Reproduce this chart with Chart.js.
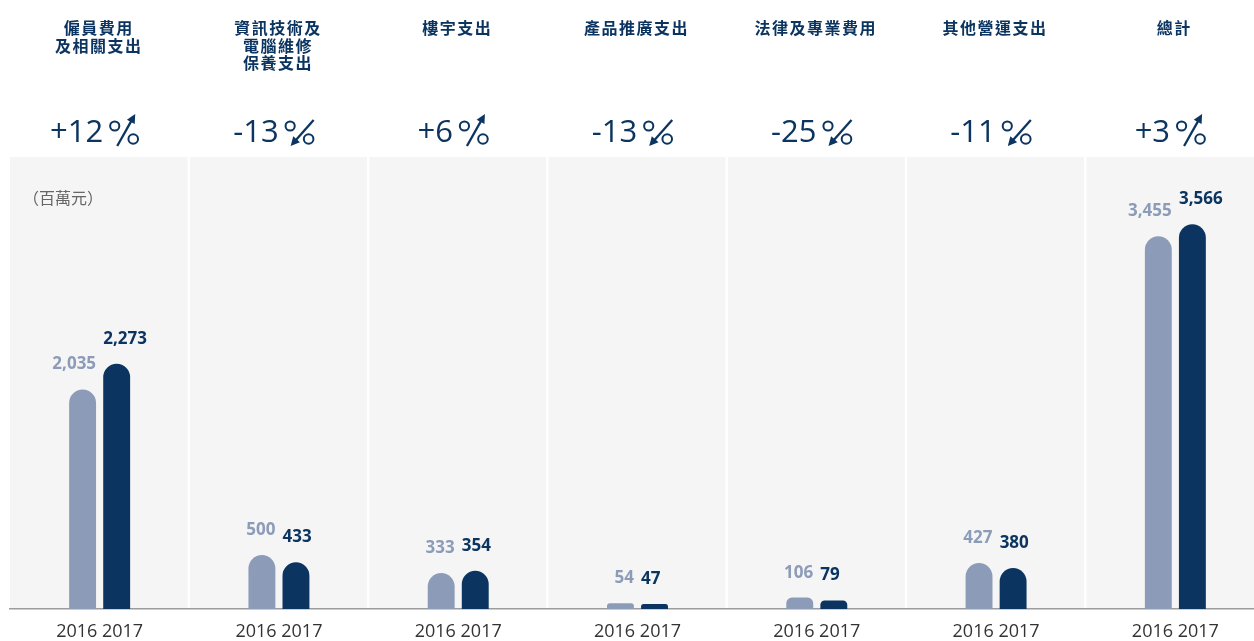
<!DOCTYPE html>
<html lang="zh-Hant">
<head>
<meta charset="UTF-8">
<title>營運支出</title>
<script src="https://cdn.jsdelivr.net/npm/chart.js"></script>
<style>
  body { margin: 0; background: #fff; overflow: hidden; }
</style>
</head>
<body>
<canvas id="costChart" width="1265" height="641"></canvas>
<script>
// data
var categories = [
  ['僱員費用', '及相關支出'],
  ['資訊技術及', '電腦維修', '保養支出'],
  ['樓宇支出'],
  ['產品推廣支出'],
  ['法律及專業費用'],
  ['其他營運支出'],
  ['總計']
];
var years = ['2016', '2017'];
var values2016 = [2035, 500, 333, 54, 106, 427, 3455];
var values2017 = [2273, 433, 354, 47, 79, 380, 3566];
var changes = [12, -13, 6, -13, -25, -11, 3];
var unitLabel = '（百萬元）';

var navy = '#0b3560';
var light = '#8c9cb8';
var cjk = '"Noto Sans CJK TC", "Noto Sans", sans-serif';
var latin = '"Open Sans", "Noto Sans", sans-serif';

function fmt(v) { return v.toLocaleString('en-US'); }

// grey panel behind each category
var panels = {
  id: 'panels',
  beforeDraw: function(chart) {
    var ctx = chart.ctx, a = chart.chartArea;
    var w = (a.right - a.left) / categories.length;
    ctx.save();
    ctx.fillStyle = '#f5f5f5';
    for (var i = 0; i < categories.length; i++) {
      var x0 = a.left + i * w + (i ? 0.7 : 0);
      var x1 = a.left + (i + 1) * w - 1.6;
      ctx.fillRect(x0, a.top, x1 - x0, a.bottom - a.top);
    }
    ctx.restore();
  }
};

// value labels over the bars
var barValues = {
  id: 'barValues',
  afterDatasetsDraw: function(chart) {
    var ctx = chart.ctx;
    ctx.save();
    ctx.font = 'bold 17px ' + latin;
    ctx.textBaseline = 'alphabetic';
    chart.data.datasets.forEach(function(ds, di) {
      chart.getDatasetMeta(di).data.forEach(function(bar, i) {
        var half = bar.width / 2;
        if (di === 0) {
          ctx.fillStyle = light;
          ctx.textAlign = 'right';
          ctx.fillText(fmt(ds.data[i]), bar.x + half, bar.y - 20);
        } else {
          ctx.fillStyle = navy;
          ctx.textAlign = 'left';
          ctx.fillText(fmt(ds.data[i]), bar.x - half, bar.y - 20);
        }
      });
    });
    ctx.restore();
  }
};

function drawArrow(ctx, x0, y0, x1, y1) {
  var ang = Math.atan2(y1 - y0, x1 - x0);
  var len = 9;
  ctx.beginPath();
  ctx.moveTo(x0, y0);
  ctx.lineTo(x1 - Math.cos(ang) * 5, y1 - Math.sin(ang) * 5);
  ctx.stroke();
  ctx.beginPath();
  ctx.moveTo(x1, y1);
  ctx.lineTo(x1 - len * Math.cos(ang) + 4.5 * Math.sin(ang), y1 - len * Math.sin(ang) - 4.5 * Math.cos(ang));
  ctx.lineTo(x1 - len * Math.cos(ang) - 4.5 * Math.sin(ang), y1 - len * Math.sin(ang) + 4.5 * Math.cos(ang));
  ctx.closePath();
  ctx.fill();
}

function drawChange(ctx, cx, value) {
  var txt = (value > 0 ? '+' : '-') + Math.abs(value);
  var base = 142;
  ctx.font = '31px ' + latin;
  ctx.textAlign = 'left';
  ctx.textBaseline = 'alphabetic';
  var w = ctx.measureText(txt).width;
  var x0 = cx - 5 - (w + 36) / 2;
  ctx.fillText(txt, x0, base);
  var e = x0 + w;
  ctx.lineWidth = 2;
  ctx.beginPath();
  ctx.arc(e + 11.5, base - 16, 4.6, 0, Math.PI * 2);
  ctx.stroke();
  ctx.beginPath();
  ctx.arc(e + 30, base - 3, 4.8, 0, Math.PI * 2);
  ctx.stroke();
  ctx.lineWidth = 2.3;
  if (value > 0) drawArrow(ctx, e + 14, base + 4, e + 32, base - 28);
  else drawArrow(ctx, e + 35, base - 22, e + 12, base + 4);
}

// category headers, change figures and unit
var headerText = {
  id: 'headerText',
  afterDraw: function(chart) {
    var ctx = chart.ctx, a = chart.chartArea;
    var w = (a.right - a.left) / categories.length;
    ctx.save();
    ctx.fillStyle = navy;
    ctx.strokeStyle = navy;
    for (var i = 0; i < categories.length; i++) {
      var cx = a.left + (i + 0.5) * w;
      ctx.font = 'bold 16px ' + cjk;
      ctx.textAlign = 'center';
      ctx.textBaseline = 'middle';
      if ('letterSpacing' in ctx) ctx.letterSpacing = '1.5px';
      categories[i].forEach(function(line, j) {
        ctx.fillText(line, cx - 1, 28 + j * 17.5);
      });
      if ('letterSpacing' in ctx) ctx.letterSpacing = '0px';
      drawChange(ctx, cx, changes[i]);
    }
    ctx.fillStyle = '#666';
    ctx.font = '16px ' + cjk;
    ctx.textAlign = 'left';
    ctx.textBaseline = 'middle';
    ctx.fillText(unitLabel, 23, 198);
    ctx.restore();
  }
};

new Chart(document.getElementById('costChart'), {
  type: 'bar',
  data: {
    labels: categories,
    datasets: [
      { label: years[0], data: values2016, backgroundColor: light },
      { label: years[1], data: values2017, backgroundColor: navy }
    ]
  },
  options: {
    responsive: false,
    animation: false,
    devicePixelRatio: 1,
    layout: { padding: { left: 10, top: 157, right: 0, bottom: 0 } },
    datasets: {
      bar: {
        categoryPercentage: 0.38,
        barPercentage: 0.79,
        borderRadius: { topLeft: 14, topRight: 14 },
        borderSkipped: 'start'
      }
    },
    plugins: {
      legend: { display: false },
      tooltip: { enabled: false }
    },
    scales: {
      x: {
        grid: { display: false, drawTicks: false },
        border: { display: true, color: '#9c9c9c', width: 1.5 },
        afterFit: function(scale) { scale.height = 32; },
        ticks: {
          padding: 12,
          color: '#333',
          font: { family: latin, size: 18 },
          maxRotation: 0,
          callback: function() { return years.join(' '); }
        }
      },
      y: { display: false, min: 0, max: 4190 }
    }
  },
  plugins: [panels, barValues, headerText]
});
</script>
</body>
</html>
